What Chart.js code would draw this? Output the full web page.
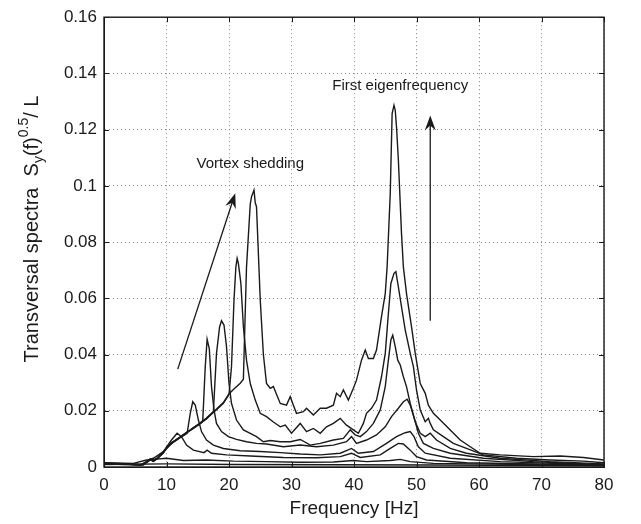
<!DOCTYPE html>
<html lang="en">
<head>
<meta charset="UTF-8">
<title>Transversal spectra</title>
<script src="https://cdn.jsdelivr.net/npm/chart.js"></script>
<style>
  body { margin: 0; background: #fff; }
  canvas { display: block; }
</style>
</head>
<body>
<canvas id="spectra" width="641" height="524"></canvas>
<script>
// axis ticks
const xTicks = [0, 10, 20, 30, 40, 50, 60, 70, 80];
const yTicks = [0, 0.02, 0.04, 0.06, 0.08, 0.1, 0.12, 0.14, 0.16];

// spectra, [frequency (Hz), Sy(f)^0.5 / L]
// A: vortex peak 24 Hz, largest eigen peak
const curveA = [[0,0.0012],[2,0.0011],[4,0.001],[5.5,0.0008],[6.0,0.0009],[6.8,0.0019],[7.4,0.0027],[7.9,0.0022],[8.5,0.0031],
  [9.5,0.0052],[10.0,0.0068],[10.8,0.0086],[11.7,0.0098],[12.4,0.011],[13.2,0.0121],[14.3,0.0139],[15.4,0.0156],[16.4,0.0171],
  [17.5,0.0196],[18.0,0.0206],[19.1,0.0229],[20.0,0.026],[20.7,0.0276],[21.8,0.0298],[22.3,0.0312],[22.8,0.071],[23.4,0.0935],
  [23.6,0.0961],[24.0,0.0985],[24.2,0.094],[24.4,0.0926],[25.0,0.0594],[25.5,0.040],[26.0,0.0297],[26.6,0.028],[27.1,0.0286],
  [28.2,0.0226],[29.2,0.022],[29.8,0.025],[30.3,0.022],[30.8,0.0191],[31.9,0.0197],[32.4,0.0209],[33.5,0.0185],[34.6,0.0209],
  [35.6,0.0209],[36.7,0.022],[37.2,0.0262],[37.8,0.025],[38.3,0.0274],[39.1,0.0238],[39.9,0.028],[40.4,0.0309],[41.2,0.038],
  [41.8,0.0416],[42.3,0.0386],[43.1,0.0386],[43.6,0.0416],[44.4,0.0535],[45.0,0.0617],[45.3,0.0712],[45.8,0.0973],[46.1,0.1257],
  [46.4,0.1287],[46.6,0.1269],[46.8,0.121],[47.1,0.1092],[47.6,0.0831],[47.9,0.0712],[48.4,0.0617],[49.2,0.0499],[49.8,0.0404],
  [50.6,0.0297],[51.4,0.0262],[51.9,0.022],[52.7,0.0191],[53.8,0.0167],[55.4,0.0132],[57.0,0.0096],[58.6,0.0072],[60.2,0.0049],
  [63.4,0.0043],[68.7,0.0037],[73.0,0.0039],[76.7,0.0034],[80,0.0025]];
// B: vortex peak 21.3 Hz
const curveB = [[0,0.0011],[2,0.001],[4,0.0009],[5.5,0.0008],[6.0,0.0008],[6.8,0.0017],[7.4,0.0026],[7.9,0.0021],[8.5,0.003],
  [9.5,0.0051],[10.0,0.0066],[10.8,0.0084],[11.7,0.0097],[12.4,0.0108],[13.2,0.0123],[14.3,0.0137],[15.4,0.0154],[16.4,0.0173],
  [17.5,0.0194],[18.0,0.0204],[19.1,0.0227],[20.0,0.0258],[20.4,0.0357],[20.8,0.0594],[21.1,0.0712],[21.3,0.0742],[21.5,0.0724],
  [21.9,0.0653],[22.3,0.050],[22.8,0.038],[23.4,0.0297],[24.2,0.0238],[25.0,0.0191],[26.0,0.0179],[27.1,0.016],[28.2,0.0143],
  [29.0,0.0149],[30.0,0.012],[31.4,0.0155],[32.4,0.0126],[33.5,0.0137],[34.6,0.012],[35.6,0.0143],[36.7,0.0155],[37.8,0.0173],
  [38.8,0.0149],[39.9,0.0132],[40.7,0.012],[41.5,0.0155],[42.0,0.0191],[42.8,0.0209],[43.6,0.0238],[44.4,0.0321],[45.0,0.0404],
  [45.5,0.0546],[45.9,0.0653],[46.4,0.0689],[46.7,0.0695],[47.1,0.0641],[47.6,0.057],[48.2,0.0487],[49.0,0.0404],[49.5,0.0357],
  [50.0,0.0274],[50.6,0.0203],[51.4,0.0161],[51.9,0.0173],[52.2,0.0155],[52.7,0.0132],[54.3,0.0108],[55.9,0.0084],[58.0,0.0066],
  [60.7,0.0043],[66.0,0.0031],[71.4,0.0025],[76.7,0.0021],[80,0.0015]];
// C: vortex peak 19 Hz
const curveC = [[0,0.0013],[2,0.0012],[4,0.001],[5.5,0.0009],[6.0,0.0009],[6.8,0.0016],[7.4,0.0025],[7.9,0.0023],[8.5,0.0032],
  [9.5,0.0053],[10.0,0.0067],[10.8,0.0083],[11.7,0.0099],[12.4,0.0109],[13.2,0.0121],[14.3,0.0138],[15.4,0.0157],[16.4,0.0174],
  [17.5,0.0197],[18.0,0.0404],[18.5,0.0499],[18.8,0.052],[19.2,0.0505],[19.6,0.0428],[20.0,0.0297],[20.4,0.0226],[21.2,0.0167],
  [22.3,0.0132],[23.4,0.012],[24.4,0.0108],[25.5,0.009],[26.6,0.0094],[28.2,0.009],[29.8,0.009],[31.4,0.0098],[33.0,0.0078],
  [34.6,0.0084],[36.7,0.0096],[38.3,0.0102],[39.4,0.0132],[40.2,0.0114],[41.0,0.0108],[42.0,0.0126],[43.1,0.0155],[44.2,0.0203],
  [45.0,0.0286],[45.5,0.038],[45.9,0.0452],[46.2,0.0469],[46.6,0.0428],[47.0,0.038],[47.4,0.0363],[47.9,0.0321],[48.4,0.0286],
  [49.0,0.0226],[49.8,0.0161],[50.6,0.012],[51.4,0.0108],[52.2,0.012],[53.2,0.0096],[55.4,0.0066],[58.0,0.0049],[63.4,0.0031],
  [71.4,0.0019],[80,0.0011]];
// D: vortex peak 16.5 Hz
const curveD = [[0,0.001],[2,0.001],[4,0.0009],[5.5,0.0008],[6.0,0.0007],[6.8,0.0018],[7.4,0.0029],[7.9,0.0021],[8.5,0.0029],
  [9.5,0.005],[10.0,0.0069],[10.8,0.0087],[11.7,0.0097],[12.4,0.0111],[13.2,0.0122],[14.3,0.014],[15.4,0.0155],[15.8,0.0165],
  [16.2,0.0357],[16.5,0.0454],[16.85,0.042],[17.2,0.0286],[17.6,0.0203],[18.0,0.0155],[18.8,0.0126],[19.9,0.0108],[21.2,0.0098],
  [22.8,0.009],[24.4,0.0084],[26.0,0.0082],[28.7,0.0072],[31.4,0.0078],[34.0,0.0072],[36.7,0.0078],[38.8,0.009],[39.6,0.0108],
  [40.4,0.0084],[42.0,0.0096],[43.6,0.0114],[45.0,0.0143],[46.0,0.0179],[47.1,0.0209],[47.9,0.0232],[48.5,0.0241],[49.0,0.022],
  [49.8,0.0161],[50.3,0.012],[51.1,0.0084],[52.7,0.0066],[55.4,0.0049],[60.7,0.0031],[68.7,0.0019],[80,0.0008]];
// E: vortex peak 14.2 Hz
const curveE = [[0,0.0012],[2,0.0011],[4,0.001],[5.5,0.0009],[6.0,0.0008],[6.8,0.0017],[7.4,0.0026],[7.9,0.002],[8.5,0.0031],
  [9.5,0.0054],[10.0,0.0067],[10.8,0.0085],[11.7,0.01],[12.4,0.0107],[13.3,0.012],[13.8,0.0191],[14.2,0.0232],[14.6,0.022],
  [15.1,0.0167],[15.6,0.0126],[16.4,0.0096],[17.5,0.0078],[19.1,0.0066],[21.8,0.0058],[25.0,0.0055],[28.2,0.0051],[31.4,0.0046],
  [34.6,0.0043],[37.8,0.0049],[39.6,0.0066],[40.7,0.0049],[43.1,0.0055],[45.2,0.0084],[46.8,0.0108],[48.2,0.0122],[49.0,0.0126],
  [49.6,0.0108],[50.3,0.0072],[51.4,0.0049],[55.4,0.0031],[63.4,0.0019],[80,0.0007]];
// F: vortex peak 11.7 Hz
const curveF = [[0,0.0014],[3,0.0012],[5.5,0.0008],[6.3,0.0007],[7.4,0.0028],[7.9,0.0031],[9.5,0.0055],[10.8,0.0096],[11.7,0.012],
  [12.4,0.0108],[13.2,0.0078],[14.3,0.006],[16.0,0.0051],[16.5,0.006],[17.2,0.0049],[19.6,0.0043],[23.4,0.0039],[28.7,0.0034],
  [34.0,0.0033],[37.8,0.0037],[39.6,0.0049],[41.0,0.0034],[44.2,0.0043],[45.8,0.0066],[47.1,0.0084],[47.9,0.0082],[49.0,0.006],
  [50.0,0.0037],[51.6,0.0025],[58.0,0.0015],[80,0.0006]];
// G, H: lowest spectra
const curveG = [[0,0.0015],[4.7,0.0013],[6.8,0.0025],[7.9,0.0027],[10.0,0.0031],[12.7,0.0023],[16.4,0.0025],[20.7,0.0021],
  [26.0,0.0019],[31.4,0.0017],[36.7,0.0018],[39.9,0.0023],[42.0,0.0019],[45.8,0.0023],[47.4,0.0027],[49.0,0.0019],[52.7,0.0013],[80,0.0005]];
const curveH = [[0,0.0009],[10,0.0011],[20.7,0.0009],[36.7,0.0008],[52.7,0.0007],[80,0.0004]];

const curves = [curveA, curveB, curveC, curveD, curveE, curveF, curveG, curveH];

const FONT = '"Liberation Sans", Arial, sans-serif';
const INK = '#1a1a1a';

function arrow(ctx, x1, y1, x2, y2) {
    const ang = Math.atan2(y2 - y1, x2 - x1);
    const len = 15, half = 5.5;
    const bx = x2 - Math.cos(ang) * len, by = y2 - Math.sin(ang) * len;
    ctx.beginPath();
    ctx.moveTo(x1, y1);
    ctx.lineTo(x2 - Math.cos(ang) * 9, y2 - Math.sin(ang) * 9);
    ctx.stroke();
    ctx.beginPath();
    ctx.moveTo(x2, y2);
    ctx.lineTo(bx - Math.sin(ang) * half, by + Math.cos(ang) * half);
    ctx.lineTo(x2 - Math.cos(ang) * 10, y2 - Math.sin(ang) * 10);
    ctx.lineTo(bx + Math.sin(ang) * half, by - Math.cos(ang) * half);
    ctx.closePath();
    ctx.fill();
}

// frame, inward ticks, annotations and axis titles
const decorations = {
    id: 'decorations',
    afterDraw(chart) {
        const {ctx, chartArea: a, scales: {x, y}} = chart;
        ctx.save();
        ctx.strokeStyle = INK;
        ctx.fillStyle = INK;
        ctx.lineWidth = 1.4;
        ctx.strokeRect(a.left, a.top, a.right - a.left, a.bottom - a.top);

        ctx.lineWidth = 1;
        ctx.beginPath();
        xTicks.forEach(v => {
            const px = Math.round(x.getPixelForValue(v)) + 0.5;
            ctx.moveTo(px, a.bottom); ctx.lineTo(px, a.bottom - 5);
            ctx.moveTo(px, a.top); ctx.lineTo(px, a.top + 5);
        });
        yTicks.forEach(v => {
            const py = Math.round(y.getPixelForValue(v)) + 0.5;
            ctx.moveTo(a.left, py); ctx.lineTo(a.left + 5, py);
            ctx.moveTo(a.right, py); ctx.lineTo(a.right - 5, py);
        });
        ctx.stroke();

        // arrows
        ctx.lineWidth = 1.3;
        arrow(ctx, x.getPixelForValue(11.8), y.getPixelForValue(0.0348), x.getPixelForValue(21.0), y.getPixelForValue(0.0974));
        arrow(ctx, x.getPixelForValue(52.2), y.getPixelForValue(0.052), x.getPixelForValue(52.2), y.getPixelForValue(0.125));

        ctx.font = '15px ' + FONT;
        ctx.textAlign = 'center';
        ctx.textBaseline = 'middle';
        ctx.fillText('Vortex shedding', x.getPixelForValue(23.4), y.getPixelForValue(0.1077));
        ctx.fillText('First eigenfrequency', x.getPixelForValue(47.4), y.getPixelForValue(0.1355));

        // x title
        ctx.font = '19px ' + FONT;
        ctx.fillText('Frequency [Hz]', (a.left + a.right) / 2, 509);

        // y title with sub/superscript
        const big = '20px ' + FONT, small = '14px ' + FONT;
        const parts = [
            {t: 'Transversal spectra  S', f: big, dy: 0},
            {t: 'y', f: small, dy: 5},
            {t: '(f)', f: big, dy: 0},
            {t: '0.5', f: small, dy: -10},
            {t: '/ L', f: big, dy: 0}
        ];
        let total = 0;
        parts.forEach(p => { ctx.font = p.f; p.w = ctx.measureText(p.t).width; total += p.w; });
        ctx.translate(38, 229);
        ctx.rotate(-Math.PI / 2);
        ctx.textAlign = 'left';
        ctx.textBaseline = 'alphabetic';
        let cx = -total / 2;
        parts.forEach(p => {
            ctx.font = p.f;
            ctx.fillText(p.t, cx, p.dy);
            cx += p.w;
        });
        ctx.restore();
    }
};

new Chart(document.getElementById('spectra'), {
    type: 'line',
    data: {
        datasets: curves.map(c => ({
            data: c.map(([f, s]) => ({x: f, y: s})),
            borderColor: INK,
            borderWidth: 1.4,
            pointRadius: 0,
            tension: 0,
            fill: false
        }))
    },
    options: {
        responsive: false,
        animation: false,
        layout: {padding: {top: 17, right: 37, left: 0, bottom: 0}},
        plugins: {legend: {display: false}, tooltip: {enabled: false}},
        scales: {
            x: {
                type: 'linear', min: 0, max: 80,
                afterBuildTicks: s => { s.ticks = xTicks.map(v => ({value: v})); },
                afterFit: s => { s.height = 57; },
                grid: {color: '#8a8a8a', lineWidth: 1, drawTicks: false},
                border: {display: true, color: INK, dash: [1, 3]},
                ticks: {color: INK, font: {family: FONT, size: 17}, padding: 8, maxRotation: 0}
            },
            y: {
                type: 'linear', min: 0, max: 0.16,
                afterBuildTicks: s => { s.ticks = yTicks.map(v => ({value: v})); },
                afterFit: s => { s.width = 104; },
                grid: {color: '#8a8a8a', lineWidth: 1, drawTicks: false},
                border: {display: true, color: INK, dash: [1, 3]},
                ticks: {color: INK, font: {family: FONT, size: 17}, padding: 7,
                    callback: v => String(+v.toFixed(2))}
            }
        }
    },
    plugins: [decorations]
});
</script>
</body>
</html>
